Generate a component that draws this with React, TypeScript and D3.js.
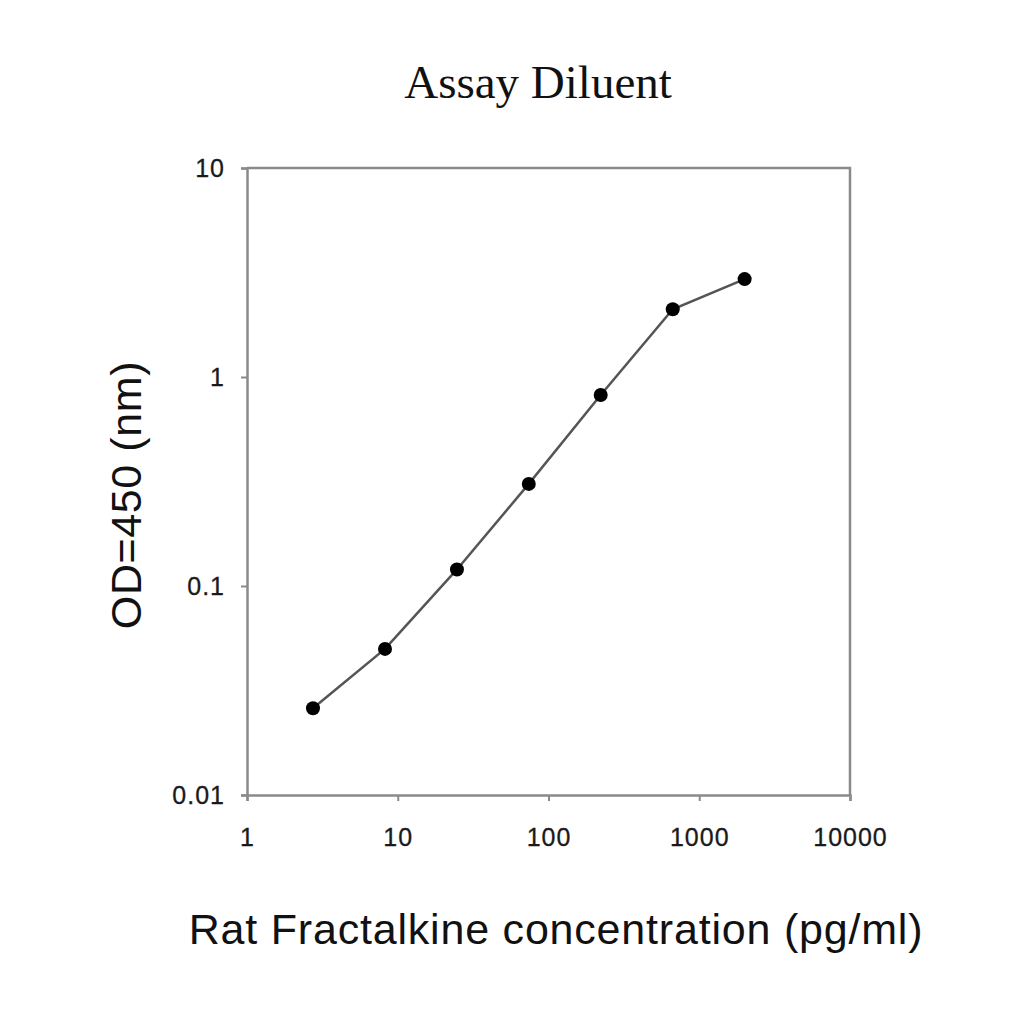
import React, { useEffect, useRef } from 'react';
import * as d3 from 'd3';

const concentration = [2.74, 8.23, 24.7, 74, 222, 667, 2000];
const odValues = [0.026, 0.05, 0.12, 0.308, 0.82, 2.11, 2.94];
const xTicks = [1, 10, 100, 1000, 10000];
const yTicks = [0.01, 0.1, 1, 10];

const App: React.FC = () => {
    const ref = useRef<SVGSVGElement | null>(null);

    useEffect(() => {
        if (!ref.current) return;
        const margin = { top: 168, right: 174, bottom: 229, left: 247 };
        const W = 1024, H = 1024;
        const width = W - margin.left - margin.right;
        const height = H - margin.top - margin.bottom;

        const svg = d3.select(ref.current);
        svg.selectAll('*').remove();

        const x = d3.scaleLog().domain([1, 10000]).range([0, width]);
        const y = d3.scaleLog().domain([0.01, 10]).range([height, 0]);

        const g = svg.append('g').attr('transform', `translate(${margin.left},${margin.top})`);

        // frame (top and right)
        g.append('path')
            .attr('d', `M0,0H${width}V${height}`)
            .attr('fill', 'none')
            .attr('stroke', '#8a8a8a')
            .attr('stroke-width', 2.5);

        const xAxis = g.append('g')
            .attr('transform', `translate(0,${height})`)
            .call(d3.axisBottom(x).tickValues(xTicks).tickFormat(d => String(d)).tickSize(6).tickPadding(27));
        const yAxis = g.append('g')
            .call(d3.axisLeft(y).tickValues(yTicks).tickFormat(d => String(d)).tickSize(6).tickPadding(16));

        [xAxis, yAxis].forEach(a => {
            a.select('.domain').attr('stroke', '#8a8a8a').attr('stroke-width', 2.5);
            a.selectAll('.tick line').attr('stroke', '#8a8a8a').attr('stroke-width', 2);
            a.selectAll('.tick text')
                .attr('fill', '#1a1a1a')
                .attr('font-family', 'Liberation Sans, Arial, sans-serif')
                .attr('font-size', 25)
                .attr('letter-spacing', 1)
                .attr('stroke', '#1a1a1a')
                .attr('stroke-width', 0.3);
        });

        const pts = concentration.map((c, i) => [c, odValues[i]] as [number, number]);
        const line = d3.line<[number, number]>().x(d => x(d[0])).y(d => y(d[1]));

        g.append('path')
            .datum(pts)
            .attr('d', line)
            .attr('fill', 'none')
            .attr('stroke', '#555')
            .attr('stroke-width', 2.5);

        g.selectAll('.dot')
            .data(pts)
            .enter()
            .append('circle')
            .attr('class', 'dot')
            .attr('cx', d => x(d[0]))
            .attr('cy', d => y(d[1]))
            .attr('r', 7)
            .attr('fill', '#000');

        // title
        svg.append('text')
            .attr('x', 538)
            .attr('y', 98)
            .attr('text-anchor', 'middle')
            .attr('font-family', 'Liberation Serif, Times New Roman, serif')
            .attr('font-size', 47)
            .attr('fill', '#111')
            .text('Assay Diluent');

        // x label
        svg.append('text')
            .attr('x', 556)
            .attr('y', 944)
            .attr('text-anchor', 'middle')
            .attr('font-family', 'Liberation Sans, Arial, sans-serif')
            .attr('font-size', 43)
            .attr('letter-spacing', 0.8)
            .attr('fill', '#111')
            .text('Rat Fractalkine concentration (pg/ml)');

        // y label
        svg.append('text')
            .attr('transform', 'translate(141,495) rotate(-90)')
            .attr('text-anchor', 'middle')
            .attr('font-family', 'Liberation Sans, Arial, sans-serif')
            .attr('font-size', 43)
            .attr('letter-spacing', 0.6)
            .attr('fill', '#111')
            .text('OD=450 (nm)');
    }, []);

    return (
        <div style={{ position: 'absolute', left: 0, top: 0, background: '#fff' }}>
            <svg ref={ref} width={1024} height={1024} style={{ display: 'block' }} />
        </div>
    );
};

export default App;
